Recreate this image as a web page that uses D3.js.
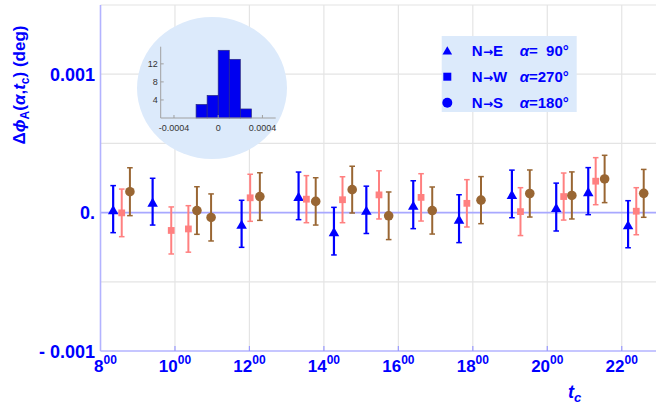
<!DOCTYPE html>
<meta charset="utf-8">
<head>
<script src="https://d3js.org/d3.v7.min.js"></script>
<style>
  body { margin: 0; background: white; }
  text { font-family: "Liberation Sans", Arial, sans-serif; }
</style>
</head>
<body>
<div id="chart"></div>
<script>
// N->E, alpha = 90 (triangles)
const neTime = [8.34, 9.40, 11.79, 13.32, 14.27, 15.14, 16.40, 17.63, 19.05, 20.24, 21.10, 22.17]
const neVal = [0.25e-4, 0.79e-4, -0.81e-4, 1.21e-4, -1.34e-4, 0.20e-4, 0.57e-4, -0.44e-4, 1.35e-4, 0.40e-4, 1.55e-4, -0.84e-4]
const neErr = [1.70e-4, 1.69e-4, 1.70e-4, 1.72e-4, 1.72e-4, 1.71e-4, 1.73e-4, 1.73e-4, 1.72e-4, 1.73e-4, 1.70e-4, 1.70e-4]

// N->W, alpha = 270 (squares)
const nwTime = [8.57, 9.90, 10.36, 12.02, 13.53, 14.50, 15.48, 16.61, 17.84, 19.28, 20.44, 21.30, 22.39]
const nwVal = [-0.02e-4, -1.29e-4, -1.18e-4, 1.07e-4, 0.97e-4, 0.93e-4, 1.28e-4, 1.10e-4, 0.67e-4, 0.07e-4, 1.16e-4, 2.27e-4, 0.10e-4]
const nwErr = [1.72e-4, 1.70e-4, 1.68e-4, 1.70e-4, 1.70e-4, 1.66e-4, 1.74e-4, 1.71e-4, 1.71e-4, 1.73e-4, 1.70e-4, 1.70e-4, 1.70e-4]

// N->S, alpha = 180 (circles)
const nsTime = [8.79, 10.59, 10.97, 12.28, 13.78, 14.76, 15.74, 16.91, 18.22, 19.53, 20.66, 21.54, 22.59]
const nsVal = [1.51e-4, 0.15e-4, -0.35e-4, 1.16e-4, 0.81e-4, 1.66e-4, -0.23e-4, 0.15e-4, 0.90e-4, 1.38e-4, 1.24e-4, 2.43e-4, 1.39e-4]
const nsErr = [1.73e-4, 1.72e-4, 1.70e-4, 1.72e-4, 1.71e-4, 1.69e-4, 1.72e-4, 1.70e-4, 1.70e-4, 1.70e-4, 1.70e-4, 1.71e-4, 1.73e-4]

// inset histogram
const histEdges = [-0.0002, -0.0001, 0, 0.0001, 0.0002, 0.0003]
const histCounts = [3, 5, 15, 13, 2]
const histXTicks = [-0.0004, 0, 0.0004]
const histXLabels = ["-0.0004", "0", "0.0004"]
const histYTicks = [4, 8, 12]

const xTicks = [8, 10, 12, 14, 16, 18, 20, 22]
const yTicks = [-0.001, 0, 0.001]
const yTickLabels = ["- 0.001", "0.", "0.001"]
const yGrid = [-0.0005, 0.0005, 0.001, 0.0015]

const legendRows = [
    { shape: "tri", from: "N", to: "E", ang: "=\u200790\u00b0" },
    { shape: "sq", from: "N", to: "W", ang: "=270\u00b0" },
    { shape: "circ", from: "N", to: "S", ang: "=180\u00b0" }
]

const blue = "#0000ff"
const pink = "#ff8080"
const brown = "#996633"
const axisCol = "#b3b3ff"
const gridCol = "#e4e4e4"

const svg = d3.select("#chart").append("svg")
    .attr("width", 656)
    .attr("height", 409)

const x = d3.scaleLinear().domain([8, 22.92]).range([100.5, 656])
const y = d3.scaleLinear().domain([-0.001, 0.0015]).range([351, 5])

// grid
svg.append("g").selectAll("line")
    .data(xTicks.slice(1))
    .enter().append("line")
    .attr("x1", d => x(d)).attr("x2", d => x(d))
    .attr("y1", y(0.0015)).attr("y2", y(-0.001))
    .attr("stroke", gridCol).attr("stroke-width", 1.2)

svg.append("g").selectAll("line")
    .data(yGrid)
    .enter().append("line")
    .attr("x1", x(8)).attr("x2", 656)
    .attr("y1", d => y(d)).attr("y2", d => y(d))
    .attr("stroke", gridCol).attr("stroke-width", 1.2)

// inset
const inset = svg.append("g")
inset.append("ellipse")
    .attr("cx", 212).attr("cy", 88).attr("rx", 75).attr("ry", 71)
    .attr("fill", "#dceafb")

const hx = d3.scaleLinear().domain([-0.00052, 0.00052]).range([160.7, 275.7])
const hy = d3.scaleLinear().domain([0, 15.8]).range([118, 46.7])

inset.selectAll("rect")
    .data(histCounts)
    .enter().append("rect")
    .attr("x", (d, i) => hx(histEdges[i]))
    .attr("width", (d, i) => hx(histEdges[i + 1]) - hx(histEdges[i]))
    .attr("y", d => hy(d))
    .attr("height", d => hy(0) - hy(d))
    .attr("fill", "#0000f0")
    .attr("stroke", "#2a2a80")
    .attr("stroke-width", 0.7)

inset.append("line")
    .attr("x1", hx.range()[0]).attr("x2", hx.range()[1])
    .attr("y1", hy(0)).attr("y2", hy(0))
    .attr("stroke", "#a0a0a0")
inset.append("line")
    .attr("x1", hx.range()[0]).attr("x2", hx.range()[0])
    .attr("y1", hy(0)).attr("y2", hy.range()[1])
    .attr("stroke", "#a0a0a0")

inset.selectAll(".hxt")
    .data(histXTicks)
    .enter().append("line")
    .attr("x1", d => hx(d)).attr("x2", d => hx(d))
    .attr("y1", hy(0)).attr("y2", hy(0) - 3)
    .attr("stroke", "#a0a0a0")
inset.selectAll(".hxl")
    .data(histXTicks)
    .enter().append("text")
    .attr("x", d => hx(d))
    .attr("y", hy(0) + 13)
    .attr("text-anchor", "middle")
    .attr("font-size", 9)
    .attr("fill", "#333")
    .text((d, i) => histXLabels[i])

inset.selectAll(".hyt")
    .data(histYTicks)
    .enter().append("line")
    .attr("x1", hx.range()[0]).attr("x2", hx.range()[0] + 3)
    .attr("y1", d => hy(d)).attr("y2", d => hy(d))
    .attr("stroke", "#a0a0a0")
inset.selectAll(".hyl")
    .data(histYTicks)
    .enter().append("text")
    .attr("x", hx.range()[0] - 3)
    .attr("y", d => hy(d) + 3.5)
    .attr("text-anchor", "end")
    .attr("font-size", 9)
    .attr("fill", "#333")
    .text(d => d)

// zero line
svg.append("line")
    .attr("x1", x(8)).attr("x2", 656)
    .attr("y1", y(0)).attr("y2", y(0))
    .attr("stroke", "#a8a8ff").attr("stroke-width", 1.6)

// axes
svg.append("line")
    .attr("x1", x(8)).attr("x2", x(8))
    .attr("y1", y(0.0015)).attr("y2", y(-0.001))
    .attr("stroke", axisCol).attr("stroke-width", 1.6)
svg.append("line")
    .attr("x1", x(8)).attr("x2", 656)
    .attr("y1", y(-0.001)).attr("y2", y(-0.001))
    .attr("stroke", axisCol).attr("stroke-width", 1.6)

svg.append("g").selectAll("line")
    .data(xTicks.slice(1))
    .enter().append("line")
    .attr("x1", d => x(d)).attr("x2", d => x(d))
    .attr("y1", y(-0.001)).attr("y2", y(-0.001) - 5)
    .attr("stroke", "#9a9aff").attr("stroke-width", 1.2)

// x tick labels with superscript minutes
const xl = svg.append("g").selectAll("text")
    .data(xTicks)
    .enter().append("text")
    .attr("x", (d, i) => x(d) + (i === 0 ? 5 : 0))
    .attr("y", 372)
    .attr("text-anchor", "middle")
    .attr("font-weight", "bold")
    .attr("font-size", 17)
    .attr("fill", blue)
xl.append("tspan").text(d => d)
xl.append("tspan").attr("dy", -8).attr("font-size", 12).text("00")

// y tick labels
svg.append("g").selectAll("text")
    .data(yTicks)
    .enter().append("text")
    .attr("x", 95)
    .attr("y", d => y(d) + 6.5)
    .attr("text-anchor", "end")
    .attr("font-weight", "bold")
    .attr("font-size", 18)
    .attr("fill", blue)
    .text((d, i) => yTickLabels[i])

// axis labels
const yl = svg.append("text")
    .attr("transform", "translate(25, 85) rotate(-90)")
    .attr("text-anchor", "middle")
    .attr("font-weight", "bold")
    .attr("font-size", 17)
    .attr("fill", blue)
yl.append("tspan").text("\u0394")
yl.append("tspan").attr("font-style", "italic").text("\u03d5")
yl.append("tspan").attr("font-size", 12).attr("dy", 4).text("A")
yl.append("tspan").attr("dy", -4).text("(")
yl.append("tspan").attr("font-style", "italic").text("\u03b1")
yl.append("tspan").text(",")
yl.append("tspan").attr("font-style", "italic").text("t")
yl.append("tspan").attr("font-size", 12).attr("dy", 4).text("c")
yl.append("tspan").attr("dy", -4).text(") (deg)")

const xlab = svg.append("text")
    .attr("x", 568)
    .attr("y", 398)
    .attr("font-weight", "bold")
    .attr("font-size", 18)
    .attr("fill", blue)
xlab.append("tspan").attr("font-style", "italic").text("t")
xlab.append("tspan").attr("font-style", "italic").attr("font-size", 13).attr("dy", 4).text("c")

// error bars
function errorBars(times, vals, errs, color, width) {
    const g = svg.append("g")
    times.forEach((t, i) => {
        const cx = x(t)
        const y1 = y(vals[i] + errs[i])
        const y2 = y(vals[i] - errs[i])
        g.append("line").attr("x1", cx).attr("x2", cx).attr("y1", y1).attr("y2", y2)
            .attr("stroke", color).attr("stroke-width", width)
        g.append("line").attr("x1", cx - 2.8).attr("x2", cx + 2.8).attr("y1", y1).attr("y2", y1)
            .attr("stroke", color).attr("stroke-width", 1.5)
        g.append("line").attr("x1", cx - 2.8).attr("x2", cx + 2.8).attr("y1", y2).attr("y2", y2)
            .attr("stroke", color).attr("stroke-width", 1.5)
    })
}

errorBars(neTime, neVal, neErr, blue, 2.2)
errorBars(nwTime, nwVal, nwErr, pink, 2)
errorBars(nsTime, nsVal, nsErr, brown, 2)

const triSym = d3.symbol().type(d3.symbolTriangle).size(48)
const sqSym = d3.symbol().type(d3.symbolSquare).size(46)

svg.append("g").selectAll("path")
    .data(neTime)
    .enter().append("path")
    .attr("d", triSym)
    .attr("transform", (d, i) => `translate(${x(d)}, ${y(neVal[i]) + 2})`)
    .attr("fill", blue)

svg.append("g").selectAll("path")
    .data(nwTime)
    .enter().append("path")
    .attr("d", sqSym)
    .attr("transform", (d, i) => `translate(${x(d)}, ${y(nwVal[i])})`)
    .attr("fill", pink)

svg.append("g").selectAll("circle")
    .data(nsTime)
    .enter().append("circle")
    .attr("cx", d => x(d))
    .attr("cy", (d, i) => y(nsVal[i]))
    .attr("r", 4.8)
    .attr("fill", brown)

// legend
const legend = svg.append("g").attr("transform", "translate(441.7, 36)")
legend.append("rect")
    .attr("width", 135).attr("height", 76)
    .attr("fill", "#dceafb")

const rows = legend.selectAll(".row")
    .data(legendRows)
    .enter().append("g")
    .attr("transform", (d, i) => `translate(0, ${14.7 + i * 26})`)

rows.filter(d => d.shape === "tri").append("path")
    .attr("d", d3.symbol().type(d3.symbolTriangle).size(40))
    .attr("transform", "translate(5.6, 1)")
    .attr("fill", blue)
rows.filter(d => d.shape === "sq").append("path")
    .attr("d", d3.symbol().type(d3.symbolSquare).size(64))
    .attr("transform", "translate(5.6, 0)")
    .attr("fill", blue)
rows.filter(d => d.shape === "circ").append("circle")
    .attr("cx", 5.6).attr("r", 5)
    .attr("fill", blue)

const rowText = rows.append("text")
    .attr("y", 5.5)
    .attr("font-weight", "bold")
    .attr("font-size", 15)
    .attr("fill", blue)
rowText.append("tspan").attr("x", 30).text(d => d.from)
rowText.append("tspan").attr("font-family", "DejaVu Sans").attr("font-size", 12).attr("dx", 0.5).text("\u2192")
rowText.append("tspan").text(d => d.to)
rowText.append("tspan").attr("x", 78).attr("font-style", "italic").text("\u03b1")
rowText.append("tspan").text(d => d.ang)
</script>
</body>
